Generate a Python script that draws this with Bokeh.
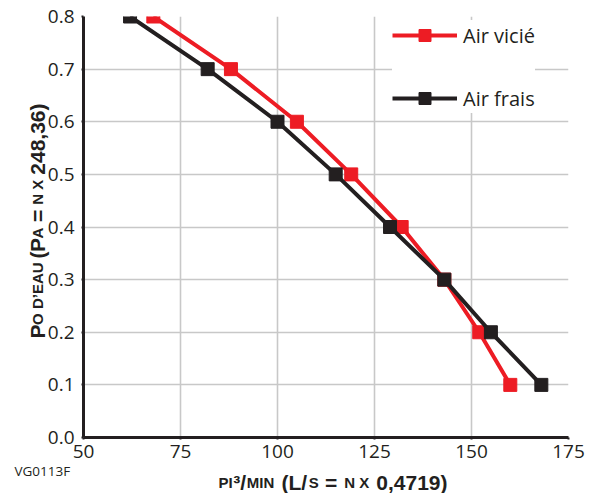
from math import pi
from bokeh.plotting import figure
from bokeh.models import (FixedTicker, PrintfTickFormatter, Label, Range1d,
                          Legend, LegendItem)
from bokeh.embed import file_html
from bokeh.resources import INLINE

# ---- data ----
x_ticks = [50, 75, 100, 125, 150, 175]
y_ticks = [0.0, 0.1, 0.2, 0.3, 0.4, 0.5, 0.6, 0.7, 0.8]
pressure = [0.8, 0.7, 0.6, 0.5, 0.4, 0.3, 0.2, 0.1]
flow_exhaust = [68, 88, 105, 119, 132, 143, 152, 160]   # Air vicié
flow_fresh = [62, 82, 100, 115, 129, 143, 155, 168]     # Air frais
series_names = ["Air vicié", "Air frais"]
code_text = "VG0113F"

RED = "#ed1c24"
BLACK = "#231f20"
GRID = "#c8c8c8"
W_PX, H_PX = 594, 493

xt = FixedTicker(ticks=x_ticks)
yt = FixedTicker(ticks=y_ticks)

p = figure(width=W_PX, height=H_PX, x_range=Range1d(50, 175), y_range=Range1d(0, 0.8),
           output_backend="svg", toolbar_location=None,
           min_border_left=83, min_border_right=26, min_border_top=16,
           min_border_bottom=56)
p.outline_line_color = None
p.background_fill_color = "white"

p.xaxis.ticker = xt
p.yaxis.ticker = yt
p.yaxis.formatter = PrintfTickFormatter(format="%.1f")
for ax in (p.xaxis, p.yaxis):
    ax.axis_line_width = 3
    ax.axis_line_color = BLACK
    ax.major_tick_line_width = 2
    ax.major_tick_line_color = BLACK
    ax.major_tick_out = 2
    ax.major_tick_in = 0
    ax.minor_tick_line_color = None
    ax.major_label_text_font = "Open Sans"
    ax.major_label_text_font_size = "19px"
    ax.major_label_text_color = BLACK
p.xaxis.major_label_standoff = 5
p.yaxis.major_label_standoff = 7

p.xgrid.ticker = xt
p.ygrid.ticker = yt
for g in (p.xgrid, p.ygrid):
    g.grid_line_color = GRID
    g.grid_line_width = 1.6

r1 = p.line(flow_exhaust, pressure, line_color=RED, line_width=4)
s1 = p.scatter(flow_exhaust, pressure, marker="square", size=13, fill_color=RED, line_color=RED)
r2 = p.line(flow_fresh, pressure, line_color=BLACK, line_width=4)
s2 = p.scatter(flow_fresh, pressure, marker="square", size=13, fill_color=BLACK, line_color=BLACK)

legend = Legend(items=[LegendItem(label=series_names[0], renderers=[r1, s1]),
                       LegendItem(label=series_names[1], renderers=[r2, s2])],
                location=(309, 324), glyph_width=65, glyph_height=30, label_height=30,
                spacing=33, padding=5, margin=0, label_standoff=6,
                label_text_font="Open Sans", label_text_font_size="20px",
                label_text_color=BLACK, border_line_color=None,
                background_fill_color="white", background_fill_alpha=1.0)
p.add_layout(legend)

# ---- transparent overlay (absolutely positioned) for the axis titles ----
o = figure(width=W_PX, height=H_PX, x_range=Range1d(0, W_PX), y_range=Range1d(H_PX, 0),
           output_backend="svg", toolbar_location=None,
           x_axis_location=None, y_axis_location=None, min_border=0)
o.outline_line_color = None
o.background_fill_color = None
o.border_fill_color = None
o.grid.visible = False
o.styles = {"position": "absolute", "left": "0px", "top": "0px"}

W = {" ": 278, "(": 333, ")": 333, "=": 584, ",": 278, "/": 278, "’": 278, "³": 333,
     "A": 722, "D": 722, "E": 667, "I": 278, "L": 611, "M": 833, "N": 722, "O": 778,
     "P": 667, "S": 667, "U": 722, "X": 667}
BIG, SMALL = 21, 15


def tw(t, s):
    return sum(W.get(c, 556) for c in t) * s / 1000.0


def add_runs(runs, x0, y0, vertical, span):
    widths = [tw(t, s) for t, s in runs]
    k = (span - widths[-1]) / (sum(widths) - widths[-1])
    off = 0.0
    for (t, s), w in zip(runs, widths):
        lead = tw(t[:len(t) - len(t.lstrip(" "))], s)
        d = off + lead
        if vertical:
            x, y, ang = x0, y0 - d, pi / 2
        else:
            x, y, ang = x0 + d, y0, 0
        o.add_layout(Label(x=x, y=y, text=t.strip(" "), angle=ang,
                           text_font="Liberation Sans", text_font_style="bold",
                           text_font_size=f"{s}px", text_color=BLACK,
                           text_baseline="alphabetic", text_align="left"))
        off += w * k


y_runs = [("P", BIG), ("O D’EAU", SMALL), (" (", BIG), ("P", BIG), ("A", SMALL),
          (" = ", BIG), ("N X", SMALL), (" 248,36)", BIG)]
x_runs = [("PI", SMALL), ("³/", BIG), ("MIN", SMALL), (" (L/", BIG), ("S", SMALL),
          (" = ", BIG), ("N X", SMALL), (" 0,4719)", BIG)]
add_runs(y_runs, 37, 338, True, 235)
add_runs(x_runs, 218, 482, False, 229)

o.add_layout(Label(x=14, y=470, text=code_text,
                   text_font="Open Sans", text_font_size="13.5px", text_color=BLACK,
                   text_baseline="alphabetic", text_align="left"))

open("out.html", "w").write(file_html([p, o], INLINE))
